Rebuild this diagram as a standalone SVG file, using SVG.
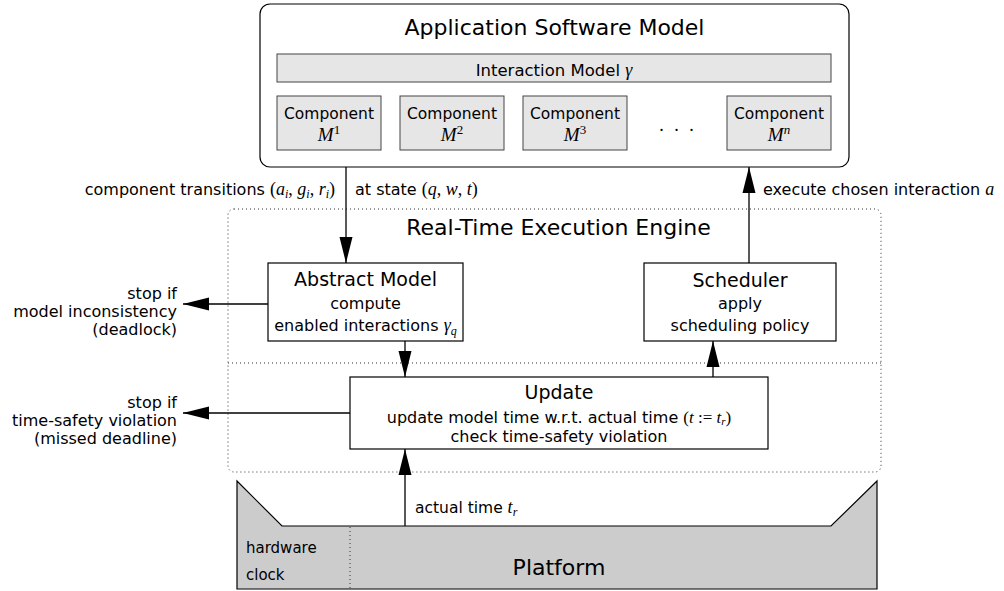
<svg xmlns="http://www.w3.org/2000/svg" width="1004" height="591" viewBox="0 0 1004 591">
<defs>
<marker id="ah" markerUnits="userSpaceOnUse" markerWidth="27" markerHeight="14" viewBox="0 0 27 14" refX="26" refY="7" orient="auto">
<path d="M0,0.5 L26,7 L0,13.5 z" fill="#000"/>
</marker>
<style>
.t{font-family:"DejaVu Sans",sans-serif;fill:#000}
.c{text-anchor:middle}
.e{text-anchor:end}
.m{font-family:"Liberation Serif",serif;font-style:italic}
.r{font-family:"Liberation Serif",serif;font-style:normal}
.box{fill:#fff;stroke:#000;stroke-width:1.2}
.comp{fill:#e6e6e6;stroke:#444;stroke-width:1}
.dot{fill:none;stroke:#333;stroke-width:1;stroke-dasharray:1 3}
.conn line{stroke:#000;stroke-width:1.3;marker-end:url(#ah)}
</style>
</defs>

<g id="app-model">
<rect class="box" x="260" y="4" width="589" height="163" rx="10"/>
<text class="t c" x="554.5" y="35" font-size="22">Application Software Model</text>
</g>

<g id="interaction-model">
<rect class="comp" x="277" y="54" width="554" height="28"/>
<text class="t c" x="554" y="76" font-size="16.5">Interaction Model <tspan class="m" font-size="18">γ</tspan></text>
</g>

<g id="component-1">
<rect class="comp" x="277" y="96" width="104" height="54"/>
<text class="t c" x="329" y="119" font-size="15.5">Component</text>
<text class="c" x="329" y="141"><tspan class="m" font-size="19">M</tspan><tspan class="r" font-size="13" dy="-7">1</tspan></text>
</g>
<g id="component-2">
<rect class="comp" x="400" y="96" width="104" height="54"/>
<text class="t c" x="452" y="119" font-size="15.5">Component</text>
<text class="c" x="452" y="141"><tspan class="m" font-size="19">M</tspan><tspan class="r" font-size="13" dy="-7">2</tspan></text>
</g>
<g id="component-3">
<rect class="comp" x="523" y="96" width="104" height="54"/>
<text class="t c" x="575" y="119" font-size="15.5">Component</text>
<text class="c" x="575" y="141"><tspan class="m" font-size="19">M</tspan><tspan class="r" font-size="13" dy="-7">3</tspan></text>
</g>
<g id="ellipsis">
<text class="r c" x="678" y="131" font-size="18" letter-spacing="3">. . .</text>
</g>
<g id="component-n">
<rect class="comp" x="727" y="96" width="104" height="54"/>
<text class="t c" x="779" y="119" font-size="15.5">Component</text>
<text class="c" x="779" y="141"><tspan class="m" font-size="19">M</tspan><tspan class="m" font-size="13" dy="-7">n</tspan></text>
</g>

<g id="engine">
<rect class="dot" x="228" y="209" width="653" height="263" rx="6"/>
<line class="dot" x1="228" y1="363" x2="881" y2="363"/>
<text class="t c" x="558.5" y="235" font-size="22">Real-Time Execution Engine</text>
</g>

<g id="abstract-model">
<rect class="box" x="268" y="263" width="195" height="78"/>
<text class="t c" x="365.5" y="286" font-size="19">Abstract Model</text>
<text class="t c" x="365.5" y="309" font-size="16">compute</text>
<text class="t c" x="365.5" y="331" font-size="16">enabled interactions <tspan class="m" font-size="18">γ</tspan><tspan class="m" font-size="12" dy="4">q</tspan></text>
</g>

<g id="scheduler">
<rect class="box" x="644" y="263" width="192" height="78"/>
<text class="t c" x="740" y="287" font-size="19">Scheduler</text>
<text class="t c" x="740" y="309" font-size="16">apply</text>
<text class="t c" x="740" y="331" font-size="16">scheduling policy</text>
</g>

<g id="update">
<rect class="box" x="350" y="377" width="418" height="72"/>
<text class="t c" x="559" y="399" font-size="19">Update</text>
<text class="t c" x="559" y="423" font-size="16">update model time w.r.t. actual time <tspan class="r" font-size="17">(</tspan><tspan class="m" font-size="17">t</tspan><tspan class="r" font-size="17"> := </tspan><tspan class="m" font-size="17">t</tspan><tspan class="m" font-size="11" dy="2">r</tspan><tspan class="r" font-size="17" dy="-2">)</tspan></text>
<text class="t c" x="559" y="442" font-size="16">check time-safety violation</text>
</g>

<g id="stop-deadlock">
<text class="t e" x="177" y="299" font-size="16">stop if</text>
<text class="t e" x="177" y="317" font-size="16">model inconsistency</text>
<text class="t e" x="177" y="335" font-size="16">(deadlock)</text>
</g>

<g id="stop-deadline">
<text class="t e" x="177" y="408" font-size="16">stop if</text>
<text class="t e" x="177" y="426" font-size="16">time-safety violation</text>
<text class="t e" x="177" y="444" font-size="16">(missed deadline)</text>
</g>

<g id="platform">
<polygon points="237,481 282,526 831,526 877,481 877,589 237,589" fill="#cccccc" stroke="#000" stroke-width="1.2"/>
<line class="dot" x1="350" y1="527" x2="350" y2="589"/>
<text class="t" x="246" y="553" font-size="15">hardware</text>
<text class="t" x="246" y="580" font-size="15">clock</text>
<text class="t c" x="559" y="575" font-size="22">Platform</text>
</g>

<g id="connectors" class="conn">
<line x1="346" y1="167" x2="346" y2="263"/>
<line x1="749" y1="263" x2="749" y2="167"/>
<line x1="268" y1="304" x2="183" y2="304"/>
<line x1="405" y1="341" x2="405" y2="377"/>
<line x1="713" y1="377" x2="713" y2="341"/>
<line x1="350" y1="413" x2="183" y2="413"/>
<line x1="405" y1="526" x2="405" y2="449"/>
<text class="t e" x="335" y="195" font-size="16">component transitions <tspan class="r" font-size="18">(</tspan><tspan class="m" font-size="18">a</tspan><tspan class="m" font-size="12" dy="3">i</tspan><tspan class="r" font-size="18" dy="-3">, </tspan><tspan class="m" font-size="18">g</tspan><tspan class="m" font-size="12" dy="3">i</tspan><tspan class="r" font-size="18" dy="-3">, </tspan><tspan class="m" font-size="18">r</tspan><tspan class="m" font-size="12" dy="3">i</tspan><tspan class="r" font-size="18" dy="-3">)</tspan></text>
<text class="t" x="355" y="195" font-size="16">at state <tspan class="r" font-size="18">(</tspan><tspan class="m" font-size="18">q</tspan><tspan class="r" font-size="18">, </tspan><tspan class="m" font-size="18">w</tspan><tspan class="r" font-size="18">, </tspan><tspan class="m" font-size="18">t</tspan><tspan class="r" font-size="18">)</tspan></text>
<text class="t" x="763" y="195" font-size="16">execute chosen interaction <tspan class="m" font-size="18">a</tspan></text>
<text class="t" x="415" y="513" font-size="15.5">actual time <tspan class="m" font-size="18">t</tspan><tspan class="m" font-size="12" dy="3">r</tspan></text>
</g>
</svg>
